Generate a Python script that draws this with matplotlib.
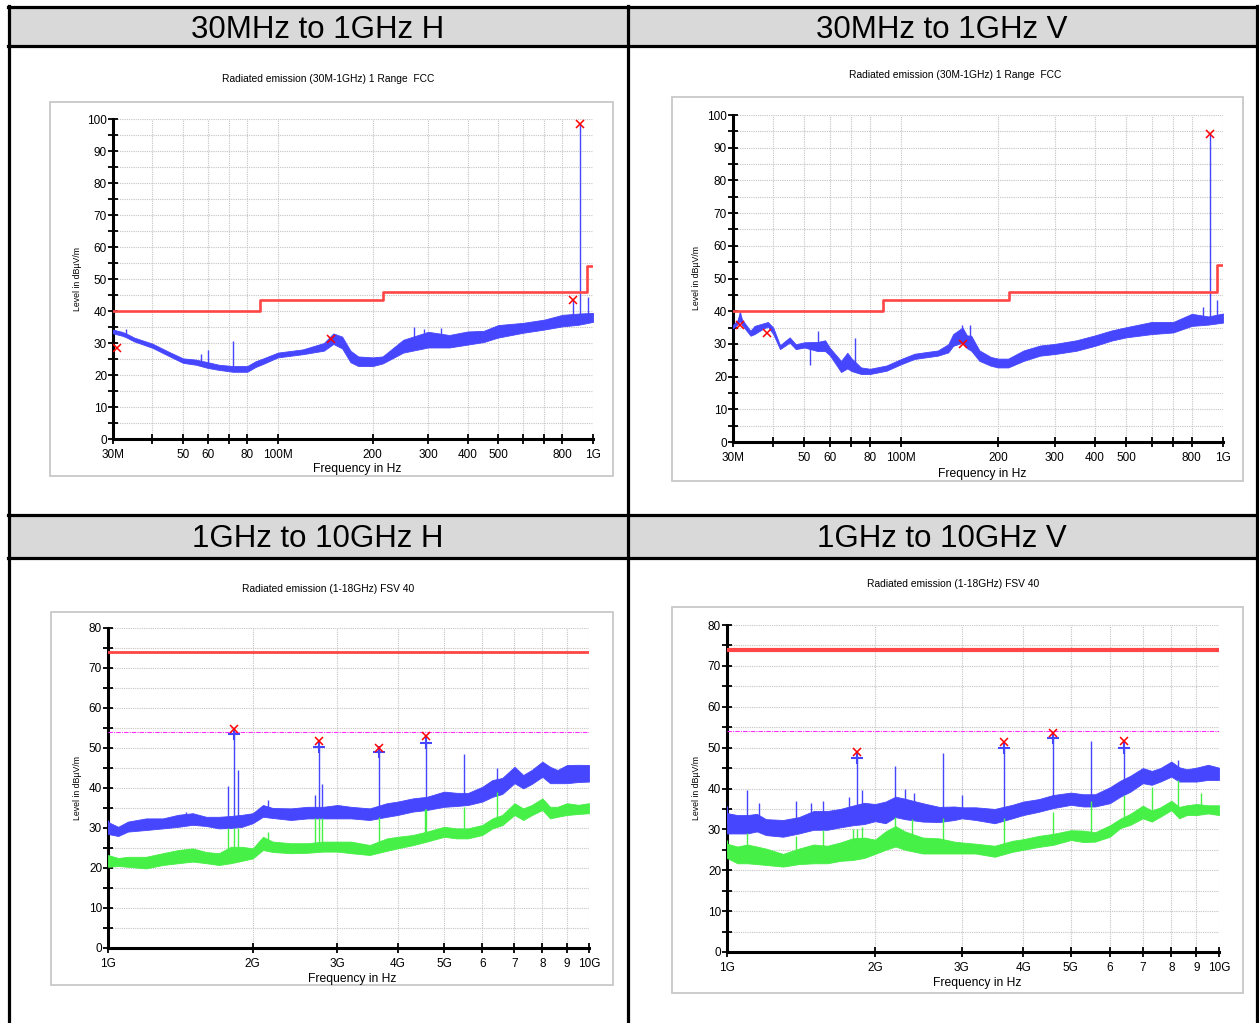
import matplotlib.pyplot as plt
import numpy as np
from matplotlib.lines import Line2D
from matplotlib.patches import Rectangle
from matplotlib.ticker import NullLocator

plt.rcParams["font.family"] = ["Liberation Sans", "DejaVu Sans"]

W, H = 1259, 1023
BLUE = "#4646ff"
GREEN = "#46f046"
RED = "#ff4545"
MAGENTA = "#ff30ff"

# ---------------------------------------------------------------------
# 30 MHz - 1 GHz, H  (MHz, dBuV/m)  -- envelope of the trace
# ---------------------------------------------------------------------
h_low_f = [30, 32, 33, 35, 40, 45, 50, 55, 60, 65, 72, 80, 85, 90, 100, 120, 140,
           150, 160, 170, 180, 200, 215, 250, 300, 350, 400, 450, 500, 600, 700,
           800, 900, 1000]
h_low_lo = [33.0, 32.3, 31.8, 30.5, 28.5, 26.0, 23.8, 23.2, 22.2, 21.6, 21.0, 21.0,
            22.5, 23.5, 25.5, 26.5, 27.6, 29.7, 28.3, 24.0, 22.8, 22.8, 23.6, 27.0,
            28.6, 28.6, 29.5, 30.3, 31.7, 33.2, 34.2, 35.2, 35.7, 36.6]
h_low_hi = [34.2, 33.5, 33.0, 31.7, 29.8, 27.3, 25.2, 24.8, 24.0, 23.2, 22.8, 22.8,
            24.3, 25.2, 27.0, 28.0, 30.0, 33.0, 32.0, 27.6, 25.8, 25.5, 25.8, 31.0,
            33.5, 32.5, 33.6, 33.8, 35.6, 36.3, 37.3, 38.8, 39.2, 39.4]
h_low_spike_f = [33, 57, 60, 72, 270, 290, 330, 866, 909, 962]
h_low_spike_v = [34.5, 26.7, 27.7, 30.7, 35.0, 34.5, 34.8, 43.4, 98.3, 44.5]
h_low_mark_f = [30.8, 147, 866, 909]
h_low_mark_v = [28.5, 31.2, 43.4, 98.3]

# ---------------------------------------------------------------------
# 30 MHz - 1 GHz, V
# ---------------------------------------------------------------------
v_low_f = [30, 31, 31.5, 32, 34, 35, 37, 38.5, 40, 42, 45, 47, 50, 55, 58, 60, 65,
           68, 70, 75, 80, 90, 100, 110, 130, 140, 145, 155, 160, 165, 175, 190,
           200, 215, 240, 270, 300, 350, 400, 450, 500, 600, 700, 800, 900, 1000]
v_low_lo = [34.8, 36.0, 37.0, 35.8, 32.5, 33.0, 34.5, 35.3, 33.0, 28.4, 30.4, 28.4,
            28.9, 27.8, 27.8, 26.5, 21.4, 22.5, 21.7, 20.8, 20.8, 21.8, 23.8, 25.4,
            26.4, 27.4, 29.4, 30.4, 28.7, 27.9, 24.8, 23.3, 22.8, 22.8, 24.8, 26.4,
            26.9, 27.9, 29.4, 31.0, 32.0, 33.0, 33.5, 35.5, 35.9, 36.5]
v_low_hi = [35.8, 37.3, 39.7, 37.5, 34.0, 35.5, 36.2, 36.7, 35.0, 29.6, 32.0, 29.9,
            30.5, 30.6, 31.1, 28.8, 24.8, 27.3, 25.6, 22.8, 22.4, 23.4, 25.4, 27.0,
            28.0, 29.9, 33.0, 35.0, 32.6, 32.5, 28.0, 26.0, 25.5, 25.5, 28.0, 29.5,
            30.0, 31.1, 32.6, 34.1, 35.1, 36.7, 36.7, 39.2, 38.4, 39.3]
v_low_spike_f = [31.5, 35, 52, 55, 72, 155, 163, 865, 912, 961]
v_low_spike_v = [39.7, 35.5, 23.6, 33.8, 31.8, 35.8, 35.8, 41.4, 94.2, 43.5]
v_low_mark_f = [31.5, 38.3, 156, 912]
v_low_mark_v = [35.8, 33.2, 30.0, 94.2]

# FCC class B limit (30 MHz - 1 GHz)
fcc_f = [30, 88, 88, 216, 216, 960, 960, 1000]
fcc_v = [40, 40, 43.5, 43.5, 46, 46, 54, 54]

# ---------------------------------------------------------------------
# 1 - 10 GHz, H  (GHz): peak (blue) and average (green)
# ---------------------------------------------------------------------
h_hi_f = [1.0, 1.05, 1.1, 1.2, 1.3, 1.4, 1.5, 1.6, 1.7, 1.8, 1.9, 2.0, 2.1, 2.2, 2.4,
          2.6, 2.8, 3.0, 3.2, 3.5, 3.8, 4.0, 4.3, 4.6, 5.0, 5.3, 5.6, 6.0, 6.3, 6.6,
          7.0, 7.3, 7.6, 8.0, 8.3, 8.6, 9.0, 9.5, 10.0]
h_pk_lo = [28.5, 28.0, 29.1, 29.5, 29.9, 30.3, 30.8, 30.5, 29.9, 30.0, 30.3, 31.2,
           32.8, 32.5, 32.0, 32.4, 32.4, 32.4, 32.4, 32.0, 32.8, 33.25, 34.1, 34.5,
           35.3, 35.5, 35.75, 36.6, 37.8, 38.5, 41.2, 39.9, 41.0, 42.8, 41.2, 41.2,
           41.2, 41.5, 41.6]
h_pk_hi = [31.5, 30.3, 31.6, 32.4, 32.4, 33.3, 33.7, 32.8, 32.8, 33.0, 33.3, 33.7,
           35.75, 35.0, 34.9, 35.3, 35.3, 35.75, 35.3, 34.9, 36.2, 36.6, 37.4, 37.8,
           39.1, 38.8, 38.75, 40.3, 42.0, 42.5, 45.3, 43.25, 44.5, 46.6, 45.3, 44.5,
           45.75, 45.8, 45.75]
h_av_lo = [20.3, 20.5, 20.3, 19.9, 20.75, 21.2, 21.6, 21.2, 20.75, 21.2, 21.8, 22.4,
           24.5, 24.0, 23.7, 23.8, 24.1, 24.1, 23.7, 23.25, 24.3, 24.9, 25.7, 26.6,
           27.8, 27.4, 27.4, 28.25, 29.9, 30.7, 33.25, 32.0, 33.2, 34.5, 32.4, 32.8,
           33.25, 33.5, 33.7]
h_av_hi = [23.25, 22.5, 22.8, 22.8, 23.7, 24.5, 24.9, 24.0, 23.7, 25.3, 25.3, 24.9,
           27.8, 26.6, 26.2, 26.2, 26.6, 26.6, 26.6, 25.75, 27.4, 27.8, 28.25, 29.1,
           30.3, 29.9, 29.9, 30.75, 32.4, 33.25, 36.2, 34.9, 35.75, 37.4, 35.3, 35.3,
           36.2, 35.8, 36.2]
h_pk_spike_f = [1.0, 1.45, 1.78, 1.825, 1.863, 2.15, 2.70, 2.742, 2.785, 3.66, 4.58,
                5.5, 6.43]
h_pk_spike_v = [32.0, 34.0, 40.5, 53.4, 44.5, 37.0, 38.2, 50.3, 41.0, 49.0, 51.2,
                48.5, 45.0]
h_av_spike_f = [1.78, 1.825, 1.863, 2.15, 2.70, 2.742, 2.785, 3.66, 4.55, 4.58, 5.5,
                6.43]
h_av_spike_v = [30.0, 30.0, 30.0, 29.0, 32.5, 32.5, 32.5, 32.8, 34.7, 34.7, 35.3,
                39.0]
h_hi_mark_f = [1.825, 2.742, 3.66, 4.58]
h_hi_mark_pk = [54.75, 51.75, 50.0, 53.0]
h_hi_mark_rd = [53.4, 50.3, 49.0, 51.2]

# ---------------------------------------------------------------------
# 1 - 10 GHz, V
# ---------------------------------------------------------------------
v_hi_f = [1.0, 1.05, 1.1, 1.15, 1.2, 1.3, 1.4, 1.5, 1.6, 1.7, 1.8, 1.9, 2.0, 2.1,
          2.2, 2.3, 2.5, 2.7, 2.9, 3.0, 3.2, 3.5, 3.8, 4.0, 4.3, 4.6, 5.0, 5.3, 5.6,
          6.0, 6.3, 6.6, 7.0, 7.3, 7.6, 8.0, 8.3, 8.6, 9.0, 9.5, 10.0]
v_pk_lo = [29.0, 29.0, 29.0, 29.5, 28.6, 28.2, 29.0, 29.9, 29.9, 30.5, 31.0, 31.3,
           32.0, 31.5, 33.0, 32.5, 31.9, 31.8, 32.3, 32.7, 32.3, 31.5, 32.7, 33.5,
           34.3, 35.2, 36.0, 35.6, 35.6, 36.4, 38.0, 39.2, 41.3, 40.9, 41.7, 42.9,
           41.7, 41.7, 41.7, 42.1, 42.1]
v_pk_hi = [34.0, 33.5, 33.5, 33.8, 32.5, 32.3, 33.0, 34.5, 34.5, 35.0, 35.8, 36.5,
           36.2, 36.8, 38.0, 37.5, 36.4, 35.5, 35.6, 35.4, 35.4, 35.0, 36.0, 36.8,
           37.4, 38.4, 39.0, 38.6, 38.6, 40.3, 41.9, 43.1, 45.0, 44.3, 45.0, 46.6,
           45.2, 44.7, 45.1, 45.8, 45.1]
v_av_lo = [23.0, 21.7, 21.7, 21.5, 21.3, 20.9, 21.5, 21.7, 21.7, 22.3, 22.5, 23.0,
           24.0, 25.0, 25.8, 25.0, 24.1, 24.1, 24.1, 24.1, 24.1, 23.3, 24.5, 25.0,
           25.7, 26.2, 27.4, 26.9, 27.0, 28.2, 30.3, 31.1, 32.7, 31.9, 33.1, 34.7,
           32.7, 33.5, 33.5, 33.9, 33.5]
v_av_hi = [26.5, 25.8, 26.3, 25.8, 25.3, 24.0, 25.3, 26.3, 26.0, 26.8, 27.8, 28.0,
           27.5, 29.5, 30.8, 29.5, 28.0, 27.8, 27.0, 26.8, 26.5, 26.0, 27.2, 27.6,
           28.4, 28.9, 29.8, 29.7, 29.3, 31.0, 32.6, 33.8, 35.8, 34.6, 35.4, 37.0,
           35.5, 35.9, 36.2, 35.9, 35.9]
v_pk_spike_f = [1.0, 1.1, 1.16, 1.38, 1.48, 1.57, 1.77, 1.835, 1.88, 2.2, 2.3, 2.4,
                2.75, 3.0, 3.66, 4.59, 5.5, 6.42, 8.25]
v_pk_spike_v = [35.6, 39.6, 36.5, 37.0, 36.5, 37.0, 38.0, 47.5, 39.6, 45.5, 40.0,
                39.0, 48.8, 38.4, 49.8, 52.4, 51.6, 50.0, 47.0]
v_av_spike_f = [1.0, 1.1, 1.38, 1.57, 1.8, 1.835, 1.88, 2.2, 2.38, 2.75, 3.66, 4.59,
                5.5, 6.42, 7.3, 8.25, 9.2]
v_av_spike_v = [27.4, 29.0, 28.5, 29.9, 30.0, 30.0, 30.7, 33.0, 32.5, 32.7, 32.8,
                34.3, 37.0, 38.4, 40.4, 42.0, 39.0]
v_hi_mark_f = [1.835, 3.66, 4.59, 6.42]
v_hi_mark_pk = [49.0, 51.3, 53.5, 51.7]
v_hi_mark_rd = [47.5, 49.8, 52.4, 50.0]

# peak / average limits above 1 GHz
hi_lim_f = [1, 10]
hi_pk_lim = [74, 74]
hi_av_lim = [54, 54]

low_ticks = [30, 40, 50, 60, 70, 80, 100, 200, 300, 400, 500, 600, 700, 800, 1000]
low_tick_labels = ["30M", "", "50", "60", "", "80", "100M", "200", "300", "400",
                   "500", "", "", "800", "1G"]
hi_ticks = [1, 2, 3, 4, 5, 6, 7, 8, 9, 10]
hi_tick_labels = ["1G", "2G", "3G", "4G", "5G", "6", "7", "8", "9", "10G"]


def fx(x):
    return x / W


def fy(y):
    return 1 - y / H


def axes_px(fig, left, top, right, bottom):
    return fig.add_axes([fx(left), fy(bottom), (right - left) / W, (bottom - top) / H])


def style_axes(ax, xlim, ymax, ticks, labels):
    ax.set_xscale("log")
    ax.set_xlim(*xlim)
    ax.set_ylim(0, ymax)
    ax.set_xticks(ticks, labels)
    ax.xaxis.set_minor_locator(NullLocator())
    ax.set_yticks(np.arange(0, ymax + 1, 10))
    ax.set_yticks(np.arange(0, ymax + 1, 5), minor=True)
    for s in ("top", "right"):
        ax.spines[s].set_visible(False)
    for s in ("left", "bottom"):
        ax.spines[s].set_linewidth(2.2)
    ax.tick_params(which="both", direction="inout", length=6.5, width=1.3,
                   labelsize=8.5, pad=1)
    ax.tick_params(axis="x", pad=4)
    ax.grid(True, which="both", color="#c4c4c4", linestyle=(0, (1, 1)), linewidth=0.8)
    ax.set_axisbelow(True)


def band(ax, f, lo, hi, color, spike_f, spike_v):
    ax.fill_between(f, lo, hi, color=color, lw=0.6, zorder=3)
    logf = np.log10(f)
    mid = (np.asarray(lo) + np.asarray(hi)) / 2
    base = np.interp(np.log10(spike_f), logf, mid)
    ax.vlines(spike_f, base, spike_v, color=color, lw=1.0, zorder=3)


def frame(fig, x0, y0, x1, y1):
    fig.add_artist(Rectangle((fx(x0), fy(y1)), (x1 - x0) / W, (y1 - y0) / H,
                             transform=fig.transFigure, fill=False,
                             ec="#c8c8c8", lw=1.3))


fig = plt.figure(figsize=(W / 100, H / 100), dpi=100)

# ---------------------------------------------------------------------
# table
# ---------------------------------------------------------------------
for y0, y1 in [(7, 46), (515, 558)]:
    fig.add_artist(Rectangle((fx(9), fy(y1)), (1257 - 9) / W, (y1 - y0) / H,
                             transform=fig.transFigure, fc="#d9d9d9", ec="none", zorder=1))
for y in (7, 46, 515, 558):
    fig.add_artist(Line2D([fx(8), fx(1258)], [fy(y), fy(y)], color="black", lw=2.3, zorder=2))
for x in (9, 628, 1257):
    fig.add_artist(Line2D([fx(x), fx(x)], [fy(6), fy(1023)], color="black", lw=2.3, zorder=2))

headers = [("30MHz to 1GHz H", 318, 30), ("30MHz to 1GHz V", 942, 30),
           ("1GHz to 10GHz H", 318, 539), ("1GHz to 10GHz V", 942, 539)]
for txt, x, y in headers:
    fig.text(fx(x), fy(y), txt, ha="center", va="center", fontsize=22.5)

# ---------------------------------------------------------------------
# 30M - 1G panels
# ---------------------------------------------------------------------
low_panels = [
    (h_low_f, h_low_lo, h_low_hi, h_low_spike_f, h_low_spike_v, h_low_mark_f, h_low_mark_v,
     (113, 119, 593, 439), (50, 102, 613, 476), 328, 79, 78, 469),
    (v_low_f, v_low_lo, v_low_hi, v_low_spike_f, v_low_spike_v, v_low_mark_f, v_low_mark_v,
     (733, 115, 1223, 442), (672, 97, 1243, 481), 955, 75, 697, 474),
]
for (f, lo, hi, sf, sv, mf, mv, ax_px, box, tx, ty, ylx, xly) in low_panels:
    frame(fig, *box)
    ax = axes_px(fig, *ax_px)
    style_axes(ax, (30, 1000), 100, low_ticks, low_tick_labels)
    band(ax, f, lo, hi, BLUE, sf, sv)
    ax.plot(fcc_f, fcc_v, color=RED, lw=1.9, zorder=4)
    ax.plot(mf, mv, "x", color="red", ms=5.5, mew=1.1, zorder=5)
    fig.text(fx(tx), fy(ty), "Radiated emission (30M-1GHz) 1 Range  FCC",
             ha="center", va="center", fontsize=7.4)
    fig.text(fx((ax_px[0] + ax_px[2]) / 2 + 4), fy(xly), "Frequency in Hz",
             ha="center", va="center", fontsize=8.7)
    fig.text(fx(ylx), fy((ax_px[1] + ax_px[3]) / 2), "Level in dBµV/m",
             ha="center", va="center", rotation=90, fontsize=6.3)

# ---------------------------------------------------------------------
# 1G - 10G panels
# ---------------------------------------------------------------------
hi_panels = [
    (h_hi_f, h_pk_lo, h_pk_hi, h_av_lo, h_av_hi, h_pk_spike_f, h_pk_spike_v,
     h_av_spike_f, h_av_spike_v, h_hi_mark_f, h_hi_mark_pk, h_hi_mark_rd,
     (108, 628, 589, 948), (51, 612, 613, 985), 328, 589, 78, 979, 2.0),
    (v_hi_f, v_pk_lo, v_pk_hi, v_av_lo, v_av_hi, v_pk_spike_f, v_pk_spike_v,
     v_av_spike_f, v_av_spike_v, v_hi_mark_f, v_hi_mark_pk, v_hi_mark_rd,
     (727, 625, 1219, 952), (672, 607, 1243, 993), 953, 584, 697, 983, 3.0),
]
for (f, plo, phi, alo, ahi, psf, psv, asf, asv, mf, mpk, mrd,
     ax_px, box, tx, ty, ylx, xly, lim_lw) in hi_panels:
    frame(fig, *box)
    ax = axes_px(fig, *ax_px)
    style_axes(ax, (1, 10), 80, hi_ticks, hi_tick_labels)
    band(ax, f, plo, phi, BLUE, psf, psv)
    band(ax, f, alo, ahi, GREEN, asf, asv)
    ax.plot(hi_lim_f, hi_pk_lim, color=RED, lw=lim_lw, zorder=4)
    ax.plot(hi_lim_f, hi_av_lim, color=MAGENTA, lw=0.8, ls=(0, (4, 1, 1, 1)), zorder=4)
    ax.plot(mf, mrd, "+", color=BLUE, ms=8, mew=1.5, zorder=5)
    ax.plot(mf, mpk, "x", color="red", ms=5.5, mew=1.1, zorder=5)
    fig.text(fx(tx), fy(ty), "Radiated emission (1-18GHz) FSV 40",
             ha="center", va="center", fontsize=7.4)
    fig.text(fx((ax_px[0] + ax_px[2]) / 2 + 4), fy(xly), "Frequency in Hz",
             ha="center", va="center", fontsize=8.7)
    fig.text(fx(ylx), fy((ax_px[1] + ax_px[3]) / 2), "Level in dBµV/m",
             ha="center", va="center", rotation=90, fontsize=6.3)

fig.savefig("out.png", dpi=100)
